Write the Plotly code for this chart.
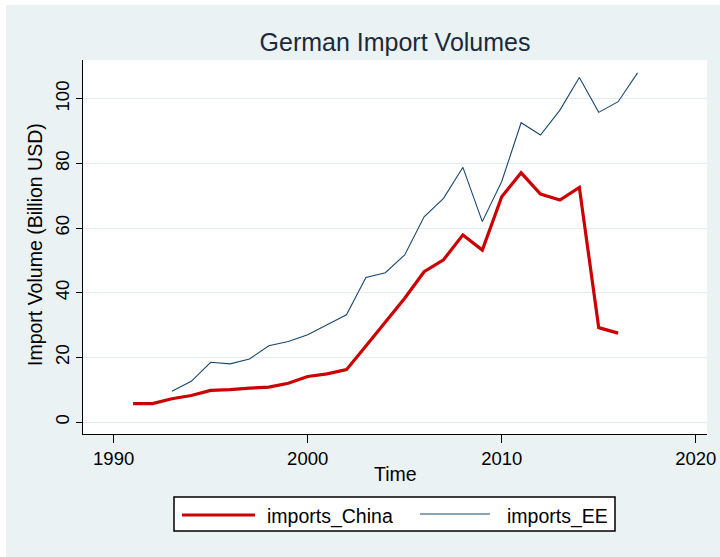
import plotly.graph_objects as go

years_china = list(range(1991, 2017))
imports_china = [5.7, 5.7, 7.2, 8.2, 9.8, 10.0, 10.5, 10.8, 12.0, 14.1, 14.9, 16.2,
                 23.5, 31.0, 38.3, 46.5, 50.2, 57.9, 53.2, 69.7, 77.1, 70.5, 68.7,
                 72.6, 29.2, 27.5]

years_ee = list(range(1993, 2018))
imports_ee = [9.5, 12.6, 18.5, 18.0, 19.5, 23.6, 24.9, 27.0, 30.1, 33.2, 44.7, 46.2,
              51.7, 63.5, 69.2, 78.8, 62.0, 74.4, 92.6, 88.8, 96.5, 106.6, 95.8,
              99.1, 108.0]

x_ticks = [1990, 2000, 2010, 2020]
y_ticks = [0, 20, 40, 60, 80, 100]

BG = "#EAF2F3"
RED = "#CC0000"
NAVY = "#1A476F"
FONT = "Liberation Sans, Arial, sans-serif"

W, H = 720, 557
ML, MR, MT, MB = 83, 13, 60, 123
PW, PH = W - ML - MR, H - MT - MB


def px(xp):
    return (xp - ML) / PW


def py(yp):
    return (H - MB - yp) / PH


fig = go.Figure()
fig.add_trace(go.Scatter(x=years_china, y=imports_china, mode="lines",
                         name="imports_China",
                         line=dict(color=RED, width=3.2), showlegend=False))
fig.add_trace(go.Scatter(x=years_ee, y=imports_ee, mode="lines",
                         name="imports_EE",
                         line=dict(color=NAVY, width=1.1), showlegend=False))

shapes = [
    # white strips around the page background
    dict(type="rect", xref="paper", yref="paper", x0=px(0), x1=px(W), y0=py(5), y1=py(0),
         fillcolor="white", line=dict(width=0), layer="below"),
    dict(type="rect", xref="paper", yref="paper", x0=px(0), x1=px(6), y0=py(H), y1=py(0),
         fillcolor="white", line=dict(width=0), layer="below"),
    # legend box
    dict(type="rect", xref="paper", yref="paper", x0=px(174), x1=px(615), y0=py(531), y1=py(497),
         fillcolor="white", line=dict(color="black", width=1.5), layer="above"),
    dict(type="line", xref="paper", yref="paper", x0=px(182), x1=px(255), y0=py(515), y1=py(515),
         line=dict(color=RED, width=3.2), layer="above"),
    dict(type="line", xref="paper", yref="paper", x0=px(420), x1=px(490), y0=py(514), y1=py(514),
         line=dict(color=NAVY, width=1.1), layer="above"),
]

annotations = [
    dict(text="imports_China", xref="paper", yref="paper", x=px(265), y=py(516),
         xanchor="left", yanchor="middle", showarrow=False,
         font=dict(family=FONT, size=19.5, color="black")),
    dict(text="imports_EE", xref="paper", yref="paper", x=px(505), y=py(516),
         xanchor="left", yanchor="middle", showarrow=False,
         font=dict(family=FONT, size=19.5, color="black")),
    dict(text="Time", xref="paper", yref="paper", x=px(395), y=py(474),
         xanchor="center", yanchor="middle", showarrow=False,
         font=dict(family=FONT, size=19.5, color="black")),
    dict(text="Import Volume (Billion USD)", xref="paper", yref="paper", x=px(35), y=py(245),
         xanchor="center", yanchor="middle", showarrow=False, textangle=-90,
         font=dict(family=FONT, size=19.5, color="black")),
]

fig.update_layout(
    width=W, height=H,
    margin=dict(l=ML, r=MR, t=MT, b=MB, pad=0, autoexpand=False),
    paper_bgcolor=BG, plot_bgcolor="white",
    title=dict(text="German Import Volumes", x=px(395), xref="paper", xanchor="center",
               y=1 - 42 / H, yref="container", yanchor="middle",
               font=dict(family=FONT, size=25, color="#1A2A3A")),
    xaxis=dict(range=[1988.42, 2020.58], tickvals=x_ticks, ticks="outside", ticklen=8,
               tickcolor="black", tickwidth=1, showline=True, linecolor="black", linewidth=1.2,
               showgrid=False, zeroline=False, automargin=False,
               tickfont=dict(family=FONT, size=18.5, color="black")),
    yaxis=dict(range=[-3.7, 112], tickvals=y_ticks, ticks="outside", ticklen=6,
               tickcolor="black", tickwidth=1, showline=True, linecolor="black", linewidth=1.2,
               showgrid=True, gridcolor="#E6EDEF", gridwidth=1, zeroline=False,
               tickangle=-90, automargin=False,
               tickfont=dict(family=FONT, size=18.5, color="black")),
    shapes=shapes,
    annotations=annotations,
    showlegend=False,
)

fig.write_html("out.html",
               config={"displayModeBar": False},
               post_script="document.body.style.margin='0';document.body.style.overflow='hidden';")
